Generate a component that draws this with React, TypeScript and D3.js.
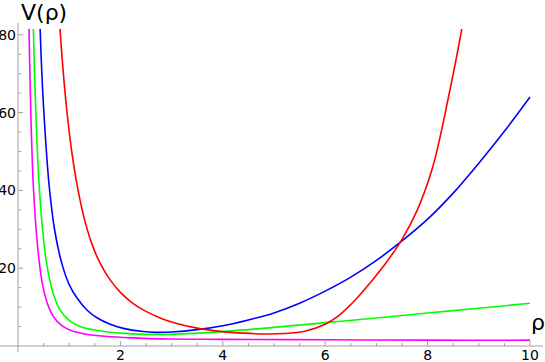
import * as d3 from 'd3';
import React, { useEffect, useRef } from 'react';

// curve samples (rho, V)
const magentaRho = [0.2, 0.25, 0.3, 0.36, 0.42, 0.5, 0.6, 0.7, 0.85, 1.0, 1.3, 1.7, 2.2, 3, 4, 6, 8, 10];
const magentaV = [92, 60, 41, 29, 21, 14.5, 10, 7.4, 5.3, 4.2, 3.1, 2.5, 2.1, 1.8, 1.7, 1.6, 1.5, 1.5];

const greenRho = [0.28, 0.32, 0.36, 0.41, 0.48, 0.55, 0.62, 0.7, 0.82, 1.0, 1.2, 1.5, 2.0, 2.5, 3.0, 4.0, 5.0, 6.0, 7.0, 8.0, 9.0, 10];
const greenV = [95, 71, 56, 42, 30, 22, 17, 13, 9.3, 6.6, 5.1, 4.1, 3.3, 3.0, 3.0, 3.7, 4.8, 6.0, 7.2, 8.5, 9.7, 11];

const blueRho = [0.4, 0.45, 0.51, 0.61, 0.72, 0.85, 1.0, 1.15, 1.35, 1.55, 1.8, 2.1, 2.4, 2.7, 3.0, 3.5, 4.0, 4.5, 5.0, 5.5, 6.0, 6.5, 7.0, 7.5, 8.0, 8.5, 9.0, 9.5, 10];
const blueV = [95, 75, 59, 41, 29.5, 21.5, 15.8, 12.4, 9.2, 7.2, 5.6, 4.4, 3.8, 3.5, 3.6, 4.2, 5.2, 6.7, 8.5, 11.0, 14.1, 17.7, 22.0, 27.0, 32.6, 39.3, 47.0, 55.2, 64];

const redRho = [0.78, 0.82, 0.88, 0.95, 1.05, 1.16, 1.3, 1.45, 1.6, 1.8, 2.0, 2.25, 2.5, 2.8, 3.1, 3.5, 4.0, 4.4, 4.8, 5.2, 5.6, 6.0, 6.3, 6.6, 6.9, 7.2, 7.5, 7.8, 8.1, 8.4, 8.7, 8.8];
const redV = [95, 82, 71, 61, 50, 41, 32.5, 26, 21.4, 17.0, 13.8, 10.9, 8.9, 7.1, 5.8, 4.6, 3.7, 3.3, 3.1, 3.2, 3.8, 5.6, 8.2, 12, 16.6, 21.6, 27.4, 35, 46, 63.5, 84, 93];

const seriesColors = ['#ff00ff', '#00ff00', '#0000ff', '#ff0000'];

const xMajorTicks = [2, 4, 6, 8, 10];
const yMajorTicks = [20, 40, 60, 80];

const App = () => {
   const svgRef = useRef<SVGSVGElement | null>(null);

   useEffect(() => {
      const svgEl = svgRef.current;
      if (!svgEl) {
         return;
      }
      const svg = d3.select(svgEl);
      svg.selectAll('*').remove();

      const width = 545;
      const height = 362;

      const xScale = d3.scaleLinear().domain([0, 10]).range([18, 530]);
      const yScale = d3.scaleLinear().domain([0, 81.5]).range([346, 29]);

      const axisColor = '#a0a0a0';
      const font = '"DejaVu Sans", sans-serif';

      // clip curves to the plot range
      svg.append('defs')
         .append('clipPath')
         .attr('id', 'plot-clip')
         .append('rect')
         .attr('x', 0)
         .attr('y', yScale(81.5))
         .attr('width', width)
         .attr('height', height);

      // x axis line
      svg.append('line')
         .attr('x1', 0)
         .attr('x2', 543)
         .attr('y1', yScale(0))
         .attr('y2', yScale(0))
         .attr('stroke', axisColor)
         .attr('stroke-width', 1);

      // y axis line
      svg.append('line')
         .attr('x1', xScale(0))
         .attr('x2', xScale(0))
         .attr('y1', 23)
         .attr('y2', 352)
         .attr('stroke', axisColor)
         .attr('stroke-width', 1);

      // x ticks (major every 2, minor every 0.5)
      const xMinor = d3.range(0.5, 10.01, 0.5);
      xMinor.forEach((v) => {
         const isMajor = xMajorTicks.includes(Math.round(v * 100) / 100);
         svg.append('line')
            .attr('x1', xScale(v))
            .attr('x2', xScale(v))
            .attr('y1', yScale(0))
            .attr('y2', yScale(0) - (isMajor ? 5 : 3))
            .attr('stroke', axisColor)
            .attr('stroke-width', 1);
      });

      // y ticks (major every 20, minor every 5)
      const yMinor = d3.range(5, 81, 5);
      yMinor.forEach((v) => {
         const isMajor = yMajorTicks.includes(v);
         svg.append('line')
            .attr('x1', xScale(0))
            .attr('x2', xScale(0) + (isMajor ? 5 : 3))
            .attr('y1', yScale(v))
            .attr('y2', yScale(v))
            .attr('stroke', axisColor)
            .attr('stroke-width', 1);
      });

      // tick labels (bottom row sits at the picture's edge, as in the original)
      svg.append('g')
         .selectAll('text')
         .data(xMajorTicks)
         .join('text')
         .attr('x', (d) => xScale(d))
         .attr('y', 360)
         .attr('text-anchor', 'middle')
         .attr('font-family', font)
         .attr('font-size', 14)
         .attr('fill', '#000')
         .text((d) => d);

      svg.append('g')
         .selectAll('text')
         .data(yMajorTicks)
         .join('text')
         .attr('x', 16)
         .attr('y', (d) => yScale(d))
         .attr('dy', '0.36em')
         .attr('text-anchor', 'end')
         .attr('font-family', font)
         .attr('font-size', 14)
         .attr('fill', '#000')
         .text((d) => d);

      // axis labels
      svg.append('text')
         .attr('x', 21)
         .attr('y', 20)
         .attr('font-family', font)
         .attr('font-size', 22)
         .attr('fill', '#000')
         .text('V(ρ)');

      svg.append('text')
         .attr('x', 531)
         .attr('y', 330)
         .attr('font-family', font)
         .attr('font-size', 22)
         .attr('fill', '#000')
         .text('ρ');

      // curves
      const series: [number[], number[]][] = [
         [magentaRho, magentaV],
         [greenRho, greenV],
         [blueRho, blueV],
         [redRho, redV],
      ];

      const lineGen = d3
         .line<[number, number]>()
         .x((d) => xScale(d[0]))
         .y((d) => yScale(d[1]))
         .curve(d3.curveCatmullRom.alpha(0.5));

      const curves = svg.append('g').attr('clip-path', 'url(#plot-clip)');
      series.forEach(([xs, ys], i) => {
         const pts = xs.map((x, k) => [x, ys[k]] as [number, number]);
         curves
            .append('path')
            .datum(pts)
            .attr('fill', 'none')
            .attr('stroke', seriesColors[i])
            .attr('stroke-width', 1.6)
            .attr('d', lineGen);
      });
   }, []);

   return (
      <svg
         ref={svgRef}
         width={545}
         height={362}
         style={{ position: 'absolute', left: 0, top: 0, background: '#fff' }}
      />
   );
};

export default App;
